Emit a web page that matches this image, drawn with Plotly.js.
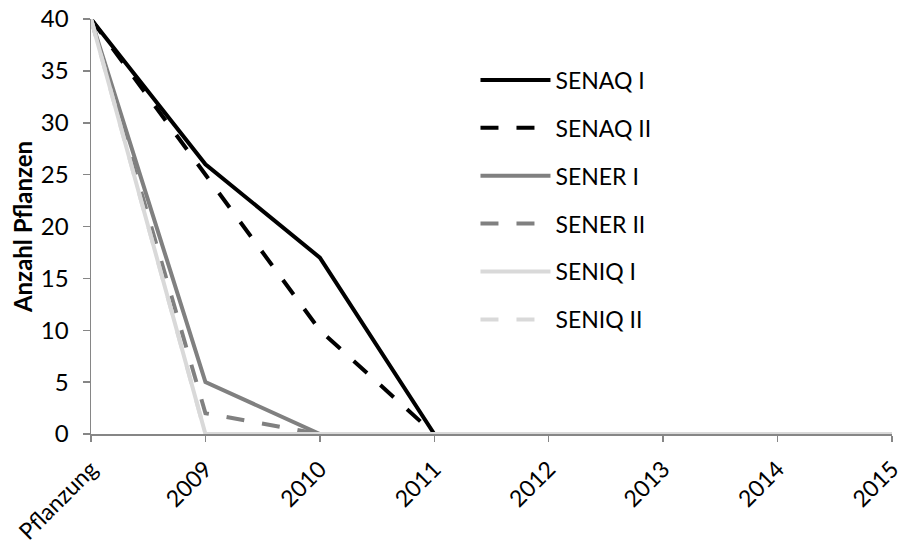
<!DOCTYPE html>
<html>
<head>
<meta charset="utf-8">
<script src="https://cdn.plot.ly/plotly-3.0.1.min.js"></script>
<style>html,body{margin:0;padding:0;background:#fff;}#chart{width:903px;height:544px;}</style>
</head>
<body>
<div id="chart"></div>
<script>
var categories = ["Pflanzung", "2009", "2010", "2011", "2012", "2013", "2014", "2015"];
var senaqI  = [40, 26, 17, 0, 0, 0, 0, 0];
var senaqII = [40, 25, 10, 0, 0, 0, 0, 0];
var senerI  = [40, 5, 0, 0, 0, 0, 0, 0];
var senerII = [40, 2, 0, 0, 0, 0, 0, 0];
var seniqI  = [40, 0, 0, 0, 0, 0, 0, 0];
var seniqII = [40, 0, 0, 0, 0, 0, 0, 0];
var seriesNames = ["SENAQ I", "SENAQ II", "SENER I", "SENER II", "SENIQ I", "SENIQ II"];
var seriesValues = [senaqI, senaqII, senerI, senerII, seniqI, seniqII];
var seriesColors = ["#000000", "#000000", "#808080", "#808080", "#d9d9d9", "#d9d9d9"];
var seriesDash = ["solid", "18px,18px", "solid", "18px,18px", "solid", "18px,18px"];

var FONT = "Lato, 'Open Sans', sans-serif";
var traces = seriesNames.map(function(n, i){
  return {
    type: "scatter", mode: "lines", name: n, x: categories, y: seriesValues[i],
    legendgroup: "g" + i,
    line: {color: seriesColors[i], width: 4, dash: seriesDash[i]}
  };
});

var layout = {
  width: 903, height: 544,
  margin: {l: 91, r: 11, t: 19, b: 110},
  paper_bgcolor: "#fff", plot_bgcolor: "#fff",
  font: {family: FONT, size: 22, color: "#000"},
  showlegend: true,
  legend: {x: 0.48, y: 0.905, xanchor: "left", yanchor: "top", font: {size: 23, family: FONT},
           itemwidth: 70, tracegroupgap: 15, bgcolor: "rgba(0,0,0,0)"},
  xaxis: {type: "category", range: [0, 7], showgrid: false, zeroline: false, automargin: false,
          showline: true, linecolor: "#868686", linewidth: 1.5,
          ticks: "outside", ticklen: 6, tickcolor: "#868686", tickwidth: 1.5,
          ticklabelstandoff: 5,
          tickangle: -45, tickfont: {size: 23, family: FONT}},
  yaxis: {range: [0, 40], dtick: 5, showgrid: false, zeroline: false, automargin: false,
          showline: true, linecolor: "#868686", linewidth: 1.5,
          ticks: "outside", ticklen: 7, tickcolor: "#868686", tickwidth: 1.5,
          ticklabelstandoff: 9,
          tickfont: {size: 24, family: FONT},
          title: {text: "<b>Anzahl Pflanzen</b>", font: {size: 24, family: FONT}, standoff: 1}}
};
Plotly.newPlot("chart", traces, layout, {displayModeBar: false, staticPlot: true});
</script>
</body>
</html>
